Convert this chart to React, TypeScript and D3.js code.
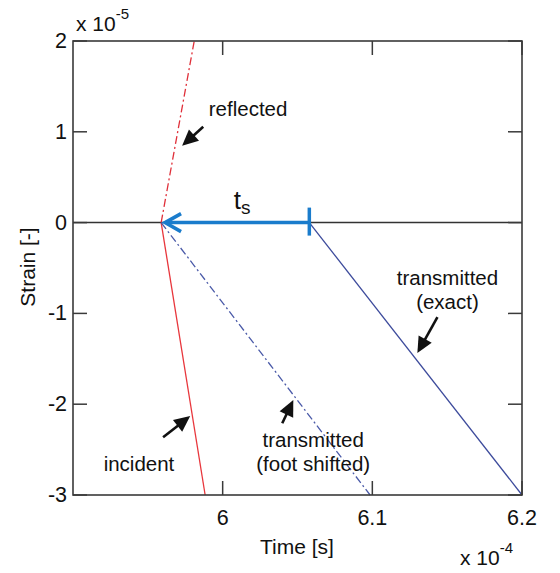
import React from "react";
import * as d3 from "d3";

// Time in units of 1e-4 s, strain in units of 1e-5
const xTicks = [6, 6.1, 6.2];
const yTicks = [-3, -2, -1, 0, 1, 2];
const xTickLabels = ["6", "6.1", "6.2"];
const yTickLabels = ["-3", "-2", "-1", "0", "1", "2"];

const incidentT = [5.9589, 5.9883];
const incidentS = [0, -3];
const reflectedT = [5.9589, 5.981];
const reflectedS = [0, 2];
const shiftedT = [5.9589, 6.0985];
const shiftedS = [0, -3];
const exactT = [6.0579, 6.2];
const exactS = [0, -3];
const zeroT = [5.9, 6.2];
const zeroS = [0, 0];

// t_s arrow: from start of exact transmitted to foot of incident
const tsFrom = 6.0579;
const tsTo = 5.9615;

// annotations
const annotLines = [["reflected"], ["incident"], ["transmitted", "(foot shifted)"], ["transmitted", "(exact)"]];
const annotTextT = [6.017, 5.9441, 6.0605, 6.1502];
const annotTextS = [1.254, -2.65, -2.384, -0.609];
const arrowTailT = [5.987, 5.9602, 6.0398, 6.1435];
const arrowTailS = [1.055, -2.363, -2.21, -1.04];
const arrowHeadT = [5.9729, 5.9783, 6.0472, 6.1301];
const arrowHeadS = [0.845, -2.131, -1.955, -1.437];

const W = 560, H = 573;
const M = { left: 73, right: 522, top: 41, bottom: 495 };
const FONT = "'Liberation Sans', Arial, sans-serif";

export default function App() {
  const x = d3.scaleLinear().domain([5.9, 6.2]).range([M.left, M.right]);
  const y = d3.scaleLinear().domain([-3, 2]).range([M.bottom, M.top]);
  const line = (ts: number[], ss: number[]) =>
    d3.line<number>().x((_, i) => x(ts[i])).y((_, i) => y(ss[i]))(ts) || "";

  const axisColor = "#3a3a3a";
  const tickLen = 14;

  const arrowHead = (x1: number, y1: number, x2: number, y2: number) => {
    const dx = x2 - x1, dy = y2 - y1;
    const L = Math.hypot(dx, dy);
    const ux = dx / L, uy = dy / L;
    const hl = 16, hw = 7.5;
    const bx = x2 - ux * hl, by = y2 - uy * hl;
    return {
      shaft: [x1, y1, bx + ux * 2, by + uy * 2],
      poly: `${x2},${y2} ${bx - uy * hw},${by + ux * hw} ${bx + uy * hw},${by - ux * hw}`,
    };
  };

  const tsY = y(0);
  const tsX1 = x(tsFrom), tsX2 = x(tsTo);

  return (
    <svg width={W} height={H} style={{ position: "absolute", left: 0, top: 0, background: "#fff" }} fontFamily={FONT}>
      <rect x={0} y={0} width={W} height={H} fill="#fff" />
      <path d={line(zeroT, zeroS)} stroke="#333" strokeWidth={1.5} fill="none" />
      <path d={line(incidentT, incidentS)} stroke="#e8363c" strokeWidth={1.3} fill="none" />
      <path d={line(reflectedT, reflectedS)} stroke="#e0303a" strokeWidth={1.3} fill="none" strokeDasharray="8,3,2,3" />
      <path d={line(shiftedT, shiftedS)} stroke="#4a5aa8" strokeWidth={1.3} fill="none" strokeDasharray="8,3,2,3" />
      <path d={line(exactT, exactS)} stroke="#3d4b9c" strokeWidth={1.3} fill="none" />

      <line x1={tsX1} y1={tsY} x2={tsX2 + 2} y2={tsY} stroke="#1a7ccc" strokeWidth={3.5} />
      <polyline
        points={`${tsX2 + 16},${tsY - 9} ${tsX2},${tsY} ${tsX2 + 16},${tsY + 9}`}
        stroke="#1a7ccc" strokeWidth={3.5} fill="none" strokeLinejoin="miter"
      />
      <line x1={tsX1} y1={tsY - 15} x2={tsX1} y2={tsY + 13} stroke="#1a7ccc" strokeWidth={3.5} />
      <text x={(tsX1 + tsX2) / 2 + 5} y={tsY - 14} fontSize={26} textAnchor="middle" fill="#111">
        t<tspan fontSize={19} dy={5}>s</tspan>
      </text>

      {annotLines.map((lines, i) => {
        const cx = x(annotTextT[i]), cy = y(annotTextS[i]);
        const a = arrowHead(x(arrowTailT[i]), y(arrowTailS[i]), x(arrowHeadT[i]), y(arrowHeadS[i]));
        return (
          <g key={i}>
            {lines.map((t, j) => (
              <text key={j} x={cx} y={cy + j * 24} fontSize={20.5} textAnchor="middle" dominantBaseline="central" fill="#111">
                {t}
              </text>
            ))}
            <line x1={a.shaft[0]} y1={a.shaft[1]} x2={a.shaft[2]} y2={a.shaft[3]} stroke="#111" strokeWidth={2.6} />
            <polygon points={a.poly} fill="#111" />
          </g>
        );
      })}

      <rect x={M.left} y={M.top} width={M.right - M.left} height={M.bottom - M.top} fill="none" stroke={axisColor} strokeWidth={1.6} />
      {xTicks.map((t, i) => (
        <g key={"xt" + i}>
          <line x1={x(t)} x2={x(t)} y1={M.bottom} y2={M.bottom - tickLen} stroke={axisColor} strokeWidth={1.5} />
          <line x1={x(t)} x2={x(t)} y1={M.top} y2={M.top + tickLen} stroke={axisColor} strokeWidth={1.5} />
          <text x={x(t)} y={M.bottom + 23} fontSize={21.5} textAnchor="middle" dominantBaseline="central" fill="#111">
            {xTickLabels[i]}
          </text>
        </g>
      ))}
      {yTicks.map((t, i) => (
        <g key={"yt" + i}>
          <line x1={M.left} x2={M.left + tickLen} y1={y(t)} y2={y(t)} stroke={axisColor} strokeWidth={1.5} />
          <line x1={M.right} x2={M.right - tickLen} y1={y(t)} y2={y(t)} stroke={axisColor} strokeWidth={1.5} />
          <text x={M.left - 6} y={y(t)} fontSize={21.5} textAnchor="end" dominantBaseline="central" fill="#111">
            {yTickLabels[i]}
          </text>
        </g>
      ))}
      <text x={76} y={23} fontSize={21} dominantBaseline="central" fill="#111">
        x 10<tspan fontSize={15} dy={-10}>-5</tspan>
      </text>
      <text x={460} y={557} fontSize={21} dominantBaseline="central" fill="#111">
        x 10<tspan fontSize={15} dy={-10}>-4</tspan>
      </text>
      <text x={297} y={546} fontSize={21} textAnchor="middle" dominantBaseline="central" fill="#111">
        Time [s]
      </text>
      <text
        transform={`translate(27, ${(M.top + M.bottom) / 2 - 1}) rotate(-90)`}
        fontSize={21} textAnchor="middle" dominantBaseline="central" fill="#111"
      >
        Strain [-]
      </text>
    </svg>
  );
}
